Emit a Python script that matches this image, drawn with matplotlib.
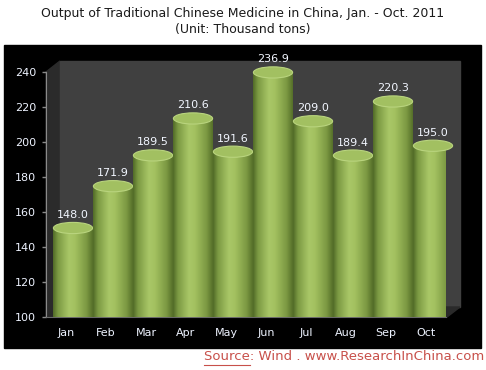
import numpy as np
import matplotlib
matplotlib.use("Agg")
import matplotlib.pyplot as plt
from matplotlib.patches import Rectangle, Ellipse, Polygon
from matplotlib.colors import LinearSegmentedColormap
import matplotlib.transforms as mtransforms

months = ['Jan', 'Feb', 'Mar', 'Apr', 'May', 'Jun', 'Jul', 'Aug', 'Sep', 'Oct']
output = [148.0, 171.9, 189.5, 210.6, 191.6, 236.9, 209.0, 189.4, 220.3, 195.0]
yticks = [100, 120, 140, 160, 180, 200, 220, 240]

W, H = 486, 370
fig = plt.figure(figsize=(W / 100, H / 100), dpi=100)
fig.patch.set_facecolor('white')

# black frame behind the chart
fig.patches.append(Rectangle((4 / W, 1 - 348 / H), 477 / W, 303 / H,
                             transform=fig.transFigure, color='black', zorder=0))

# front plane of the 3d box: x 46..446, y 317 (100) .. 72 (240)
ax = fig.add_axes([46 / W, 1 - 317 / H, 400 / W, 245 / H])
ax.set_zorder(5)
ax.patch.set_alpha(0)

dx, dy = 14, 10  # depth of the box in pixels
def fpx(x, y):
    return (x / W, 1 - y / H)

side = Polygon([fpx(46, 72), fpx(60, 61), fpx(60, 307), fpx(46, 317)],
               closed=True, transform=fig.transFigure, color='#2b2b2b', zorder=1)
back = Polygon([fpx(60, 61), fpx(460, 61), fpx(460, 307), fpx(60, 307)],
               closed=True, transform=fig.transFigure, color='#404040', zorder=1)
floor = Polygon([fpx(46, 317), fpx(60, 307), fpx(460, 307), fpx(447, 317)],
                closed=True, transform=fig.transFigure, color='#2a2a2a', zorder=1)
for p in (side, back, floor):
    fig.patches.append(p)

# bars sit in the middle of the depth
off = mtransforms.offset_copy(ax.transData, fig=fig, x=dx / 2, y=dy / 2, units='dots')

cmap = LinearSegmentedColormap.from_list(
    'cyl', [(0, '#526c28'), (0.12, '#7c9a43'), (0.4, '#a9c767'),
            (0.55, '#a3c160'), (0.85, '#7b9842'), (1, '#56702a')])
grad = np.linspace(0, 1, 64).reshape(1, -1)
bw = 0.98
eh = 6.4
for i, v in enumerate(output):
    body = Rectangle((i - bw / 2, 100), bw, v - 100, transform=off)
    img = ax.imshow(grad, cmap=cmap, aspect='auto', origin='lower',
                    extent=(i - bw / 2, i + bw / 2, 100 - eh / 2, v),
                    transform=off, zorder=3 + i)
    base = Ellipse((i, 100), bw, eh, transform=off)
    img2 = ax.imshow(grad, cmap=cmap, aspect='auto', origin='lower',
                     extent=(i - bw / 2, i + bw / 2, 100 - eh / 2, 100 + eh / 2),
                     transform=off, zorder=3 + i)
    img.set_clip_path(body)
    img2.set_clip_path(base)
    img.set_clip_box(None)
    img2.set_clip_box(None)
    top = Ellipse((i, v), bw, eh, transform=off, facecolor='#a2c061',
                  edgecolor='#b9d47e', linewidth=0.8, zorder=3.5 + i, clip_on=False)
    ax.add_patch(top)
    ax.text(i, v + 4.6, f'{v:.1f}', transform=off, ha='center', va='bottom',
            color='#f2f6ff', fontsize=8, zorder=20, clip_on=False)

ax.set_xlim(-0.5, 9.5)
ax.set_ylim(100, 240)

ax.set_yticks(yticks)
ax.set_xticks(range(len(months)))
ax.set_xticklabels(months)
ax.tick_params(axis='y', colors='#8a8a8a', labelcolor='#eef3ff', length=3,
               width=1, labelsize=8, pad=4)
ax.tick_params(axis='x', length=0, labelcolor='#eef3ff', labelsize=8, pad=8)
for s in ('top', 'right'):
    ax.spines[s].set_visible(False)
ax.spines['left'].set_color('#8a8a8a')
ax.spines['bottom'].set_color('#6a6a6a')

fig.text(0.5, 1 - 13 / H, 'Output of Traditional Chinese Medicine in China, Jan. - Oct. 2011',
         ha='center', va='center', fontsize=9, color='#1a1a1a')
fig.text(0.5, 1 - 30 / H, '(Unit: Thousand tons)',
         ha='center', va='center', fontsize=9, color='#1a1a1a')

src = fig.text(484 / W, 1 - 357 / H, 'Source: Wind . www.ResearchInChina.com',
               ha='right', va='center', fontsize=9.5, color='#c8504a')
fig.canvas.draw()
bb = src.get_window_extent()
# underline "Source"
tmp = fig.text(0, 0, 'Source', fontsize=9.5)
sw = tmp.get_window_extent(renderer=fig.canvas.get_renderer()).width
tmp.remove()
fig.lines.append(plt.Line2D([bb.x0 / W, (bb.x0 + sw) / W],
                            [(bb.y0 - 1) / H, (bb.y0 - 1) / H],
                            transform=fig.transFigure, color='#c8504a', linewidth=0.8))

fig.savefig('out.png', dpi=100, facecolor='white')
